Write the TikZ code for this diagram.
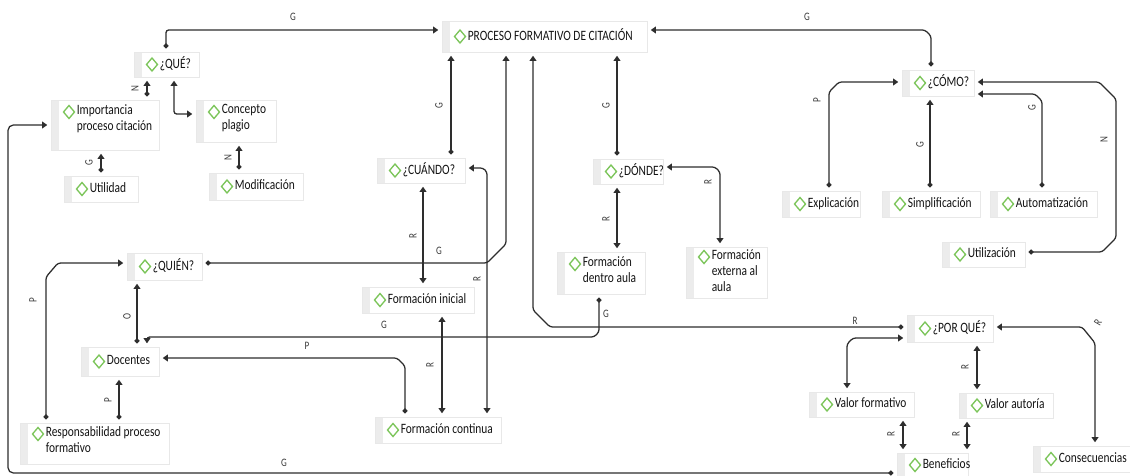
\documentclass[tikz,border=0pt]{standalone}
\usepackage{fontspec}
\setmainfont{Carlito}[FakeStretch=0.8]
\usetikzlibrary{arrows.meta,calc}
\definecolor{lc}{HTML}{2E2E2E}
\definecolor{dmg}{HTML}{7CC55A}
\definecolor{stripc}{HTML}{ECECEC}
\definecolor{bordc}{HTML}{E8E8E8}
\definecolor{txtc}{HTML}{141414}
\definecolor{lblc}{HTML}{3A3A3A}
\tikzset{
 bx/.style={draw=bordc, fill=white, line width=0.6pt, inner sep=0},
 txt/.style={font=\fontsize{10.7pt}{12pt}\selectfont, text=txtc, inner sep=0, align=left, execute at begin node=\strut},
 dm/.style={draw=dmg, line width=1pt, line join=miter},
 ln/.style={draw=lc, line width=0.95pt, shorten <=2.5pt, shorten >=2.5pt, rounded corners=2pt},
 dt/.style={{Circle[length=3.6pt]}-{Triangle[length=3.8pt,width=5pt]}},
 tt/.style={{Triangle[length=3.8pt,width=5pt]}-{Triangle[length=3.8pt,width=5pt]}},
 lb/.style={font=\fontsize{8.5pt}{9pt}\selectfont, text=lblc, inner sep=0},
 vl/.style={lb, rotate=90},
}
% single-line box: name, x1, y1, x2, y2, text
\newcommand\SBox[6]{%
 \node[bx, minimum width={(#4-#2)*0.75pt}, minimum height={(#5-#3)*0.75pt}] (#1) at ({(#2+#4)/2},{(#3+#5)/2}) {};
 \fill[stripc] (#2+0.5,#3+0.5) rectangle (#2+8,#5-0.5);
 \draw[dm] (#2+18,{(#3+#5)/2-6.5}) -- (#2+23.5,{(#3+#5)/2}) -- (#2+18,{(#3+#5)/2+6.5}) -- (#2+12.5,{(#3+#5)/2}) -- cycle;
 \node[txt, anchor=west] (#1-t) at (#2+25.5,{(#3+#5)/2}) {#6};
}
% multi-line box: name, x1, y1, x2, y2, text, first line centre y
\newcommand\MBox[7]{%
 \node[bx, minimum width={(#4-#2)*0.75pt}, minimum height={(#5-#3)*0.75pt}] (#1) at ({(#2+#4)/2},{(#3+#5)/2}) {};
 \fill[stripc] (#2+0.5,#3+0.5) rectangle (#2+8,#5-0.5);
 \draw[dm] (#2+18,#7-6.5) -- (#2+23.5,#7) -- (#2+18,#7+6.5) -- (#2+12.5,#7) -- cycle;
 \node[txt, anchor=north west] (#1-t) at (#2+25.5,#7-8) {#6};
}
\begin{document}
\begin{tikzpicture}[x=0.75pt,y=-0.75pt]
\fill[white] (0,0) rectangle (1130,475);
\useasboundingbox (0,0) rectangle (1130,475);
\foreach \c in {8,46,101,119,137,147,166,174,239,405,423,442,451,487,506,533,599,617,720,829,847,903,930,931,967,977,1042,1095}
  \coordinate (c\c) at (\c,0);
\foreach \r in {30,82,94,114,125,167,168,252,263,327,338,358,473}
  \coordinate (r\r) at (0,\r);

% boxes
\SBox{proc}{442}{21}{647}{52}{PROCESO FORMATIVO DE CITACIÓN}
\SBox{que}{134}{52}{199}{77}{¿QUÉ?}
\MBox{imp}{51}{100}{159}{150}{Importancia\\proceso citación}{112}
\MBox{con}{196}{100}{276}{142}{Concepto\\plagio}{112}
\SBox{uti}{64}{176}{138}{202}{Utilidad}
\SBox{mod}{209}{173}{303}{200}{Modificación}
\SBox{cuan}{377}{158}{465}{183}{¿CUÁNDO?}
\SBox{don}{593}{159}{663}{184}{¿DÓNDE?}
\SBox{como}{902}{70}{974}{96}{¿CÓMO?}
\SBox{expl}{782}{191}{860}{217}{Explicación}
\SBox{simp}{882}{191}{980}{217}{Simplificación}
\SBox{auto}{990}{191}{1097}{217}{Automatización}
\SBox{util}{942}{242}{1025}{267}{Utilización}
\SBox{quien}{127}{253}{202}{280}{¿QUIÉN?}
\SBox{ini}{362}{287}{474}{313}{Formación inicial}
\MBox{dentro}{557}{252}{645}{294}{Formación\\dentro aula}{264}
\MBox{ext}{686}{247}{767}{298}{Formación\\externa al\\aula}{257}
\SBox{doc}{81}{347}{159}{376}{Docentes}
\MBox{resp}{20}{423}{169}{464}{Responsabilidad proceso\\formativo}{434}
\SBox{cont}{375}{417}{501}{443}{Formación continua}
\SBox{porq}{907}{315}{993}{342}{¿POR QUÉ?}
\SBox{vform}{809}{392}{914}{417}{Valor formativo}
\SBox{vaut}{959}{393}{1053}{418}{Valor autoría}
\SBox{ben}{897}{453}{968}{477}{Beneficios}
\SBox{cons}{1033}{446}{1130}{472}{Consecuencias}

% connectors
\draw[ln,dt] (que.north -| c166) -- (166,30) -- (proc.west |- r30) node[lb] (l1) at (293,17) {G};
\draw[ln,dt] (como.north -| c931) -- (931,36) -- (925,30) -- (proc.east |- r30) node[lb] (l2) at (807,17) {G};
\draw[ln,dt] (imp.north -| c147) -- (que.south -| c147) node[vl] (l3) at (135,89) {N};
\draw[ln,tt] (que.south -| c174) -- (174,114) -- (con.west |- r114);
\draw[ln,dt] (uti.north -| c101) -- (imp.south -| c101) node[vl] (l4) at (89,163) {G};
\draw[ln,dt] (mod.north -| c239) -- (con.south -| c239) node[vl] (l5) at (228,158) {N};
\draw[ln,dt,rounded corners=4pt] (ben.west |- r473) -- (8,473) -- (8,125) -- (imp.west |- r125) node[lb] (l6) at (284,463) {G};
\draw[ln,dt] (cuan.north -| c451) -- (proc.south -| c451) node[vl] (l7) at (439,106) {G};
\draw[ln,dt] (don.north -| c617) -- (proc.south -| c617) node[vl] (l8) at (606,106) {G};
\draw[ln,tt] (cuan.south -| c423) -- (ini.north -| c423) node[vl] (l9) at (413,236) {R};
\draw[ln,tt] (cuan.east |- r168) -- (483,168) -- (487,172) -- (cont.north -| c487) node[vl] (l10) at (477,279) {R};
\draw[ln,dt] (quien.east |- r263) -- (487,263) -- (506,244) -- (proc.south -| c506) node[lb] (l11) at (439,251) {G};
\draw[ln,tt] (ini.south -| c442) -- (cont.north -| c442) node[vl] (l12) at (430,365) {R};
\draw[ln,tt] (don.south -| c617) -- (dentro.north -| c617) node[vl] (l13) at (606,219) {R};
\draw[ln,tt] (don.east |- r167) -- (715,167) -- (720,172) -- (ext.north -| c720) node[vl] (l14) at (708,182) {R};
\draw[ln,dt] (dentro.south -| c599) -- (599,332) -- (594,337) -- (147,337) -- (doc.north -| c147) node[lb] (l15) at (606,314) {G} node[lb] (l16) at (384,325) {G};
\draw[ln,dt] (cont.north -| c405) -- (405,366) -- (397,358) -- (doc.east |- r358) node[lb] (l17) at (307,346) {P};
\draw[ln,dt] (resp.north -| c46) -- (46,277) -- (58,263) -- (quien.west |- r263) node[vl] (l18) at (33,300) {P};
\draw[ln,dt,line width=1.3pt] (doc.north -| c137) -- (quien.south -| c137) node[vl] (l19) at (127,316) {O};
\draw[ln,dt] (resp.north -| c119) -- (doc.south -| c119) node[vl] (l20) at (108,400) {P};
\draw[ln,dt] (porq.west |- r327) -- (550,327) -- (533,310) -- (proc.south -| c533) node[lb] (l21) at (855,321) {R};
\draw[ln,tt] (porq.west |- r338) -- (853,338) -- (847,344) -- (vform.north -| c847);
\draw[ln,tt] (porq.south -| c977) -- (vaut.north -| c977) node[vl] (l22) at (965,367) {R};
\draw[ln,tt] (vform.south -| c903) -- (ben.north -| c903) node[vl] (l23) at (891,434) {R};
\draw[ln,tt] (vaut.south -| c967) -- (ben.north -| c967) node[vl] (l24) at (956,434) {R};
\draw[ln,tt] (porq.east |- r327) -- (1082,327) -- (1095,343) -- (cons.north -| c1095) node[lb,rotate=60] (l25) at (1098,323) {R};
\draw[ln,dt] (expl.north -| c829) -- (829,92) -- (839,82) -- (como.west |- r82) node[vl] (l26) at (817,100) {P};
\draw[ln,dt] (simp.north -| c930) -- (como.south -| c930) node[vl] (l27) at (920,145) {G};
\draw[ln,dt] (auto.north -| c1042) -- (1042,101) -- (1035,94) -- (como.east |- r94) node[vl] (l28) at (1032,108) {G};
\draw[ln,dt] (util.east |- r252) -- (1102,252) -- (1116,238) -- (1116,99) -- (1099,82) -- (como.east |- r82) node[vl] (l29) at (1104,140) {N};
\end{tikzpicture}
\end{document}
